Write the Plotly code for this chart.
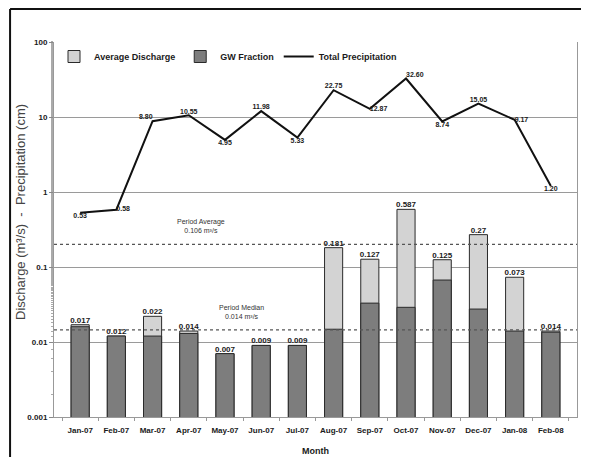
import plotly.graph_objects as go

months = ["Jan-07", "Feb-07", "Mar-07", "Apr-07", "May-07", "Jun-07", "Jul-07",
          "Aug-07", "Sep-07", "Oct-07", "Nov-07", "Dec-07", "Jan-08", "Feb-08"]
avg_discharge = [0.017, 0.012, 0.022, 0.014, 0.007, 0.009, 0.009,
                 0.181, 0.127, 0.587, 0.125, 0.27, 0.073, 0.014]
avg_labels = ["0.017", "0.012", "0.022", "0.014", "0.007", "0.009", "0.009",
              "0.181", "0.127", "0.587", "0.125", "0.27", "0.073", "0.014"]
gw_fraction = [0.016, 0.012, 0.012, 0.013, 0.007, 0.009, 0.009,
               0.0148, 0.033, 0.029, 0.067, 0.0275, 0.014, 0.0135]
precip = [0.53, 0.58, 8.80, 10.55, 4.95, 11.98, 5.33,
          22.75, 12.87, 32.60, 8.74, 15.05, 9.17, 1.20]
precip_labels = ["0.53", "0.58", "8.80", "10.55", "4.95", "11.98", "5.33",
                 "22.75", "12.87", "32.60", "8.74", "15.05", "9.17", "1.20"]
precip_pos = ["bottom center", "middle right", "top left", "top center", "bottom center",
              "top center", "bottom center", "top center", "middle right", "top right",
              "bottom center", "top center", "middle right", "bottom center"]
period_average_line = 0.2
period_average_text = "Period Average<br>0.106 m³/s"
period_median_line = 0.0145
period_median_text = "Period Median<br>0.014 m³/s"
y_tickvals = [0.001, 0.01, 0.1, 1, 10, 100]
y_ticktext = ["0.001", "0.01", "0.1", "1", "10", "100"]

FONT = "Liberation Sans, Arial, sans-serif"
TXT = "#1a1a1a"

fig = go.Figure()
fig.add_trace(go.Bar(
    x=months, y=avg_discharge, name="Average Discharge", width=0.5,
    marker=dict(color="#d3d3d3", line=dict(color="#2a2a2a", width=1)),
))
fig.add_trace(go.Bar(
    x=months, y=gw_fraction, name="GW Fraction", width=0.5,
    marker=dict(color="#7d7d7d", line=dict(color="#2a2a2a", width=1)),
))
fig.add_trace(go.Scatter(
    x=months, y=avg_discharge, mode="text", text=avg_labels,
    textposition="top center", showlegend=False, hoverinfo="skip",
    textfont=dict(size=8, color=TXT, family=FONT, weight="bold"),
    cliponaxis=False,
))
fig.add_trace(go.Scatter(
    x=months, y=precip, name="Total Precipitation", mode="lines+text",
    line=dict(color="#111", width=2), text=precip_labels, textposition=precip_pos,
    textfont=dict(size=7, color=TXT, family=FONT, weight="bold"), cliponaxis=False,
))

fig.add_shape(type="line", xref="paper", yref="y", x0=0, x1=1,
              y0=period_average_line, y1=period_average_line,
              line=dict(color="#555", width=1.2, dash="dot"))
fig.add_shape(type="line", xref="paper", yref="y", x0=0, x1=1,
              y0=period_median_line, y1=period_median_line,
              line=dict(color="#555", width=1.2, dash="dot"))
fig.add_annotation(x=3.33, y=-0.45, xref="x", yref="y", text=period_average_text,
                   showarrow=False, font=dict(size=7, color="#333", family=FONT))
fig.add_annotation(x=4.45, y=-1.6, xref="x", yref="y", text=period_median_text,
                   showarrow=False, font=dict(size=7, color="#333", family=FONT))

# y-axis title placed as annotation
fig.add_annotation(x=-0.063, y=0.547, xref="paper", yref="paper",
                   xanchor="center", yanchor="middle",
                   text="Discharge (m³/s)  -  Precipitation (cm)", textangle=-90,
                   showarrow=False, font=dict(size=13, family=FONT, color="#444"))

# outer frame (left and top)
fig.add_shape(type="line", xref="paper", yref="paper", x0=-0.084, x1=1.05,
              y0=1.088, y1=1.088, line=dict(color="#111", width=2))
fig.add_shape(type="line", xref="paper", yref="paper", x0=-0.084, x1=-0.084,
              y0=1.088, y1=-0.2, line=dict(color="#111", width=2))

fig.update_layout(
    width=581, height=449,
    margin=dict(l=46, r=12, t=34, b=40, autoexpand=False),
    barmode="overlay",
    paper_bgcolor="white", plot_bgcolor="white",
    font=dict(family=FONT, size=9, color=TXT),
    showlegend=True,
    legend=dict(orientation="h", x=0.0, y=1.0, xanchor="left", yanchor="top",
                bgcolor="rgba(0,0,0,0)", font=dict(size=9, family=FONT, weight="bold", color=TXT),
                tracegroupgap=0),
    xaxis=dict(
        type="category", showgrid=False, showline=True, linecolor="#999", linewidth=1,
        mirror=False, ticks="outside", ticklen=3, tickcolor="#999", tickson="boundaries",
        tickangle=0, automargin=False, ticklabelstandoff=5,
        tickfont=dict(size=8, family=FONT, weight="bold", color=TXT),
        title=dict(text="Month", font=dict(size=9, family=FONT, weight="bold", color=TXT), standoff=14),
    ),
    yaxis=dict(
        type="log", range=[-3, 2], tickvals=y_tickvals, ticktext=y_ticktext,
        showgrid=True, gridcolor="#9a9a9a", gridwidth=1, automargin=False,
        showline=True, linecolor="#999", linewidth=1, mirror=True,
        ticks="outside", ticklen=4, tickcolor="#888",
        minor=dict(ticks="outside", ticklen=2, tickcolor="#aaa", showgrid=False),
        tickfont=dict(size=8, family=FONT, weight="bold", color=TXT),
    ),
)

fig.write_html("out.html")
